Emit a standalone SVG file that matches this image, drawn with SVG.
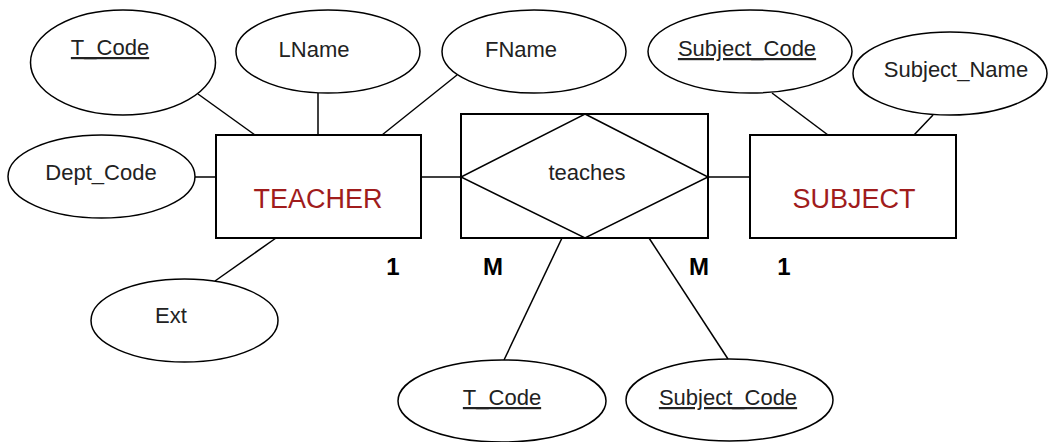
<svg xmlns="http://www.w3.org/2000/svg" width="1049" height="442" viewBox="0 0 1049 442">
<style>
.attr{fill:#fff;stroke:#000;stroke-width:1.5}
.box{fill:#fff;stroke:#000;stroke-width:2}
.lbl{font-family:"Liberation Sans",Arial,sans-serif;font-size:22px;fill:#222;text-anchor:middle}
.key{text-decoration:underline}
.ent{font-family:"Liberation Sans",Arial,sans-serif;font-size:27px;fill:#a01c1c;text-anchor:middle}
.card{font-family:"Liberation Sans",Arial,sans-serif;font-size:24px;font-weight:bold;fill:#000;text-anchor:middle}
.conn line{stroke:#000;stroke-width:1.5}
</style>
<rect width="1049" height="442" fill="#fff"/>
<g id="connectors" class="conn">
<line x1="198" y1="94" x2="255" y2="135"/>
<line x1="318" y1="93" x2="318" y2="135"/>
<line x1="457" y1="75" x2="382" y2="135"/>
<line x1="195" y1="177" x2="216" y2="177"/>
<line x1="276" y1="238" x2="215" y2="281"/>
<line x1="421" y1="177" x2="461" y2="177"/>
<line x1="708" y1="177" x2="750" y2="177"/>
<line x1="772" y1="93" x2="828" y2="135"/>
<line x1="933" y1="115" x2="914" y2="135"/>
<line x1="562" y1="238" x2="504" y2="360"/>
<line x1="649" y1="238" x2="728" y2="359"/>
</g>
<g id="attr-tcode">
<ellipse class="attr" cx="123" cy="62.5" rx="92.5" ry="52.5"/>
<text class="lbl key" x="110" y="55">T_Code</text>
</g>
<g id="attr-lname">
<ellipse class="attr" cx="328" cy="51.5" rx="92" ry="41.5"/>
<text class="lbl" x="314" y="57">LName</text>
</g>
<g id="attr-fname">
<ellipse class="attr" cx="534" cy="51.5" rx="92" ry="41.5"/>
<text class="lbl" x="521" y="57">FName</text>
</g>
<g id="attr-subjectcode">
<ellipse class="attr" cx="750" cy="51.5" rx="102" ry="41.5"/>
<text class="lbl key" x="747" y="56">Subject_Code</text>
</g>
<g id="attr-subjectname">
<ellipse class="attr" cx="950" cy="73.5" rx="97" ry="41.5"/>
<text class="lbl" x="956" y="77">Subject_Name</text>
</g>
<g id="attr-deptcode">
<ellipse class="attr" cx="101.5" cy="176.5" rx="93.5" ry="41.5"/>
<text class="lbl" x="101" y="180">Dept_Code</text>
</g>
<g id="attr-ext">
<ellipse class="attr" cx="184.5" cy="320.5" rx="93.5" ry="41.5"/>
<text class="lbl" x="171" y="323">Ext</text>
</g>
<g id="attr-tcode2">
<ellipse class="attr" cx="502" cy="401" rx="104" ry="41"/>
<text class="lbl key" x="502" y="405">T_Code</text>
</g>
<g id="attr-subjectcode2">
<ellipse class="attr" cx="729.5" cy="400" rx="103.5" ry="41"/>
<text class="lbl key" x="728" y="405">Subject_Code</text>
</g>
<g id="entity-teacher">
<rect class="box" x="216" y="135" width="205" height="103"/>
<text class="ent" x="318" y="208">TEACHER</text>
</g>
<g id="entity-subject">
<rect class="box" x="750" y="135" width="206" height="103"/>
<text class="ent" x="854" y="208">SUBJECT</text>
</g>
<g id="rel-teaches">
<rect class="box" x="461" y="114" width="247" height="124"/>
<polygon class="attr" points="585,114 708,177 585,238 461,177"/>
<text class="lbl" x="587" y="180">teaches</text>
</g>
<g id="cardinalities">
<text class="card" x="393" y="275">1</text>
<text class="card" x="493" y="275">M</text>
<text class="card" x="699" y="275">M</text>
<text class="card" x="784" y="275">1</text>
</g>
</svg>
